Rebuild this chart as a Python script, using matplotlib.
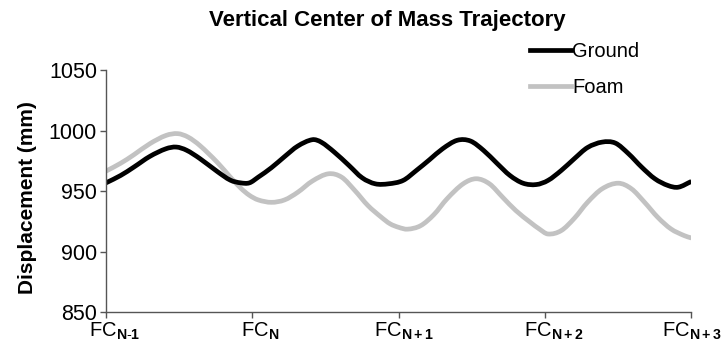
import matplotlib
matplotlib.use("Agg")
import matplotlib.pyplot as plt
import matplotlib.transforms as mtransforms
import numpy as np
from matplotlib.lines import Line2D
from matplotlib.path import Path
from matplotlib.patches import PathPatch

plt.rcParams['font.family'] = ['Liberation Sans', 'DejaVu Sans']
plt.rcParams['mathtext.fontset'] = 'custom'
plt.rcParams['mathtext.rm'] = 'Liberation Sans'
plt.rcParams['mathtext.it'] = 'Liberation Sans'
plt.rcParams['mathtext.bf'] = 'Liberation Sans:bold'

# ---- data (x in foot-contact units, y in mm) ----
ground_x = [0.00, 0.10, 0.19, 0.30, 0.41, 0.48, 0.55, 0.64, 0.76, 0.85, 0.92, 0.98,
            1.04, 1.13, 1.22, 1.31, 1.41, 1.47, 1.56, 1.66, 1.75, 1.84, 1.93,
            2.03, 2.12, 2.21, 2.30, 2.40, 2.49, 2.58, 2.67, 2.76, 2.85, 2.94,
            3.02, 3.11, 3.20, 3.29, 3.39, 3.48, 3.57, 3.66, 3.75, 3.84, 3.91, 4.00]
ground_y = [956.8, 962.9, 969.8, 978.7, 985.0, 986.4, 983.8, 977.0, 966.2, 959.0, 956.8, 956.8,
            961.5, 969.3, 978.5, 987.2, 992.5, 990.5, 982.2, 971.2, 961.0, 956.0, 956.0,
            958.8, 967.0, 975.9, 985.0, 992.0, 991.4, 983.6, 973.1, 962.9, 956.5, 955.4,
            958.8, 967.0, 976.8, 986.0, 990.5, 989.7, 980.9, 969.8, 960.2, 954.6, 953.2, 958.0]

foam_x = [0.00, 0.10, 0.19, 0.30, 0.41, 0.49, 0.56, 0.64, 0.76, 0.85, 0.92, 0.98,
          1.04, 1.13, 1.22, 1.31, 1.41, 1.52, 1.61, 1.70, 1.79, 1.88, 1.94, 2.00,
          2.06, 2.15, 2.24, 2.33, 2.44, 2.53, 2.62, 2.71, 2.80, 2.90, 2.96,
          3.02, 3.11, 3.20, 3.29, 3.39, 3.50, 3.59, 3.68, 3.77, 3.86, 3.95, 4.00]
foam_y = [966.5, 973.0, 980.0, 989.2, 996.0, 997.5, 994.7, 987.8, 973.8, 961.5, 952.5, 946.5,
          942.7, 940.7, 942.7, 949.0, 958.3, 964.3, 961.5, 950.5, 938.0, 928.5, 923.0, 920.0,
          918.5, 921.4, 930.5, 943.6, 956.0, 960.2, 956.0, 944.9, 933.9, 924.1, 918.7,
          914.5, 917.3, 927.5, 940.7, 951.9, 956.5, 951.9, 940.7, 928.3, 918.7, 913.2, 911.2]

x_ticks = [0, 1, 2, 3, 4]
x_labels = [r'$\mathregular{FC}_{\mathbf{N\text{-}1}}$', r'$\mathregular{FC}_{\mathbf{N}}$',
            r'$\mathregular{FC}_{\mathbf{N+1}}$', r'$\mathregular{FC}_{\mathbf{N+2}}$',
            r'$\mathregular{FC}_{\mathbf{N+3}}$']
y_ticks = [850, 900, 950, 1000, 1050]

GREY = '#c2c2c2'
LW = 3.4


def smooth_path(xs, ys):
    """Cubic Hermite curve through the data points (tangents from neighbours)."""
    x = np.asarray(xs, float)
    y = np.asarray(ys, float)
    n = len(x)
    m = np.empty(n)
    m[1:-1] = (y[2:] - y[:-2]) / (x[2:] - x[:-2])
    m[0] = (y[1] - y[0]) / (x[1] - x[0])
    m[-1] = (y[-1] - y[-2]) / (x[-1] - x[-2])
    verts = [(x[0], y[0])]
    codes = [Path.MOVETO]
    for i in range(n - 1):
        h = x[i + 1] - x[i]
        verts += [(x[i] + h / 3, y[i] + m[i] * h / 3),
                  (x[i + 1] - h / 3, y[i + 1] - m[i + 1] * h / 3),
                  (x[i + 1], y[i + 1])]
        codes += [Path.CURVE4] * 3
    return Path(verts, codes)


fig = plt.figure(figsize=(7.21, 3.49), dpi=100)
ax = fig.add_axes([0.147, 0.106, 0.812, 0.693])

ax.add_patch(PathPatch(smooth_path(foam_x, foam_y), fill=False, edgecolor=GREY,
                       lw=LW, capstyle='butt', joinstyle='round'))
ax.add_patch(PathPatch(smooth_path(ground_x, ground_y), fill=False, edgecolor='black',
                       lw=LW, capstyle='butt', joinstyle='round'))

ax.set_xlim(0, 4)
ax.set_ylim(850, 1050)
ax.set_xticks(x_ticks)
ax.set_xticklabels(x_labels, fontsize=14.5)
ax.set_yticks(y_ticks)
ax.set_yticklabels([str(v) for v in y_ticks], fontsize=15.5)
for s in ['top', 'right']:
    ax.spines[s].set_visible(False)
for s in ['left', 'bottom']:
    ax.spines[s].set_color('#555555')
    ax.spines[s].set_linewidth(1.0)
ax.tick_params(direction='out', length=4.5, width=1.0, color='#555555', pad=2)
ax.tick_params(axis='x', pad=2)

# small rightward shifts of the x tick labels, as in the reference
shifts_px = [9, 8, 5, 9, 0]
for lab, dx in zip(ax.get_xticklabels(), shifts_px):
    lab.set_transform(lab.get_transform() +
                      mtransforms.ScaledTranslation(dx / 100.0, 0, fig.dpi_scale_trans))

ax.set_ylabel('Displacement (mm)', fontsize=15, fontweight='bold')
ax.yaxis.set_label_coords(-0.118, 0.475)
fig.text(0.537, 0.94, 'Vertical Center of Mass Trajectory', fontsize=16,
         fontweight='bold', ha='center', va='center')

handles = [Line2D([], [], color='black', lw=LW),
           Line2D([], [], color=GREY, lw=LW)]
fig.legend(handles, ['Ground', 'Foam'], loc='upper left', bbox_to_anchor=(0.735, 0.88),
           frameon=False, fontsize=14.5, handlelength=2.05, handletextpad=0.05,
           labelspacing=0.85, borderpad=0, borderaxespad=0)

fig.savefig('out.png', dpi=100)
